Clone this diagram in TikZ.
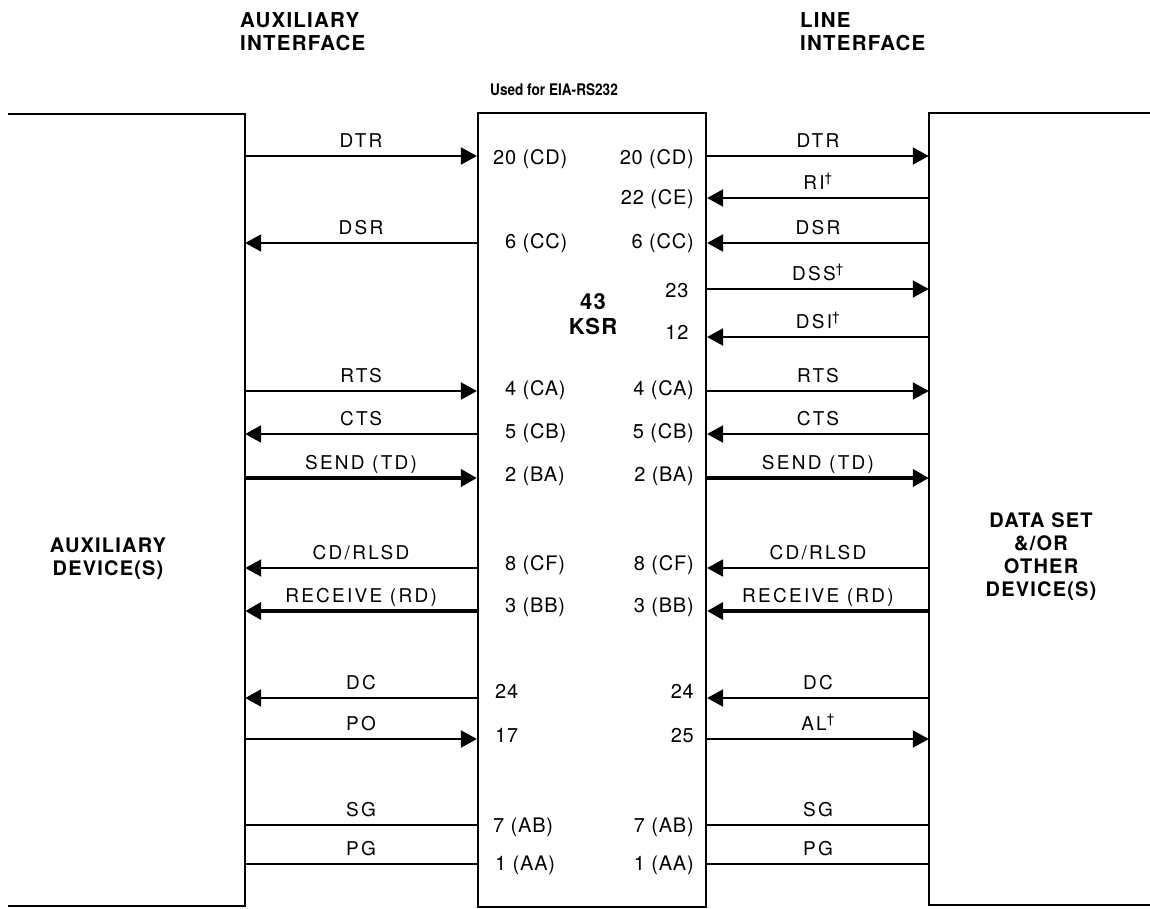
\documentclass[tikz,border=0pt]{standalone}
\usepackage{fontspec}
\setmainfont{TeX Gyre Heros}
\newfontfamily\sigfont[LetterSpace=12]{TeX Gyre Heros}
\newfontfamily\pinfont[LetterSpace=4]{TeX Gyre Heros}
\newfontfamily\headfont[LetterSpace=6]{TeX Gyre Heros}
\newfontfamily\notefont[FakeStretch=0.85]{TeX Gyre Heros}
\usetikzlibrary{arrows.meta, positioning}

\tikzset{
    wire/.style={line width=2pt},
    bus/.style={line width=3.8pt},
    tip/.style={-{Triangle[length=16pt, width=17pt]}},
    frame/.style={line width=2.2pt},
    devbox/.style={draw=none, minimum width=#1, minimum height=792pt, inner sep=0pt},
    sname/.style={font=\sigfont\fontsize{19}{21}\selectfont, anchor=base, yshift=9pt, inner sep=0pt},
    pin/.style={font=\pinfont\fontsize{20}{22}\selectfont, inner sep=0pt},
    head/.style={font=\headfont\bfseries\fontsize{20.5}{23}\selectfont, align=left, inner sep=0pt, anchor=north west},
    devname/.style={font=\headfont\bfseries\fontsize{20}{23}\selectfont, align=center, inner sep=0pt}
}

\begin{document}
\begin{tikzpicture}[x=1pt, y=-1pt]
    \useasboundingbox (0,0) rectangle (1150,908);

    % headings
    \node[head] (auxhead) at (240,12) {AUXILIARY\\INTERFACE};
    \node[head] (linehead) at (800,12) {LINE\\INTERFACE};
    \node[font=\notefont\bfseries\fontsize{16}{18}\selectfont, anchor=base west, inner sep=0pt] (rs232) at (490,95) {Used for EIA-RS232};

    % the three units
    \node[devbox=237pt] (aux) at (126.5,510) {};
    \node[devbox=221pt] (dset) at (1039.5,509) {};
    \node[draw, frame, minimum width=228pt, minimum height=794pt, inner sep=0pt] (ksr) at (592,510) {};
    \draw[frame] (aux.north west) -- (aux.north east) -- (aux.south east) -- (aux.south west);
    \draw[frame] (dset.north east) -- (dset.north west) -- (dset.south west) -- (dset.south east);

    \node[devname] (auxname) at (108,559) {AUXILIARY\\DEVICE(S)};
    \node[devname] (dsetname) at (1041,557) {DATA SET\\\&/OR\\OTHER\\DEVICE(S)};
    \node[devname, font=\headfont\bfseries\fontsize{22}{25}\selectfont] (ksrname) at (593,314) {43\\KSR};

    % signal rows
    \foreach \row/\y in {dtr/156, ri/198, dsr/243, dss/289, dsi/337, rts/391, cts/434,
                         td/478, cd/568, rd/611, dc/698, po/739, sg/825, pg/864}
        \coordinate (\row) at (0,\y);

    % pin numbers
    \foreach \txt/\x/\y in {20 (CD)/493/164, 6 (CC)/505/248, 4 (CA)/505/395, 5 (CB)/505/438,
                            2 (BA)/505/481, 8 (CF)/505/570, 3 (BB)/505/612, 24/495/698,
                            17/495/742, 7 (AB)/493/832, 1 (AA)/495/870}
        \node[pin, anchor=base west] (pinl-\y) at (\x,\y) {\txt};
    \foreach \txt/\y in {20 (CD)/164, 22 (CE)/204, 6 (CC)/248, 4 (CA)/395, 5 (CB)/438,
                         2 (BA)/481, 8 (CF)/570, 3 (BB)/612, 24/698, 25/742, 7 (AB)/832, 1 (AA)/870}
        \node[pin, anchor=base east] (pinr-\y) at (694,\y) {\txt};
    \node[pin, anchor=base] (pinr-297) at (677,297) {23};
    \node[pin, anchor=base] (pinr-339) at (677,339) {12};

    % auxiliary side
    \draw[wire, tip] (aux.east |- dtr) -- node[sname] (a-dtr) {DTR} (ksr.west |- dtr);
    \draw[wire, tip] (ksr.west |- dsr) -- node[sname] (a-dsr) {DSR} (aux.east |- dsr);
    \draw[wire, tip] (aux.east |- rts) -- node[sname] (a-rts) {RTS} (ksr.west |- rts);
    \draw[wire, tip] (ksr.west |- cts) -- node[sname] (a-cts) {CTS} (aux.east |- cts);
    \draw[bus, tip] (aux.east |- td) -- node[sname] (a-td) {SEND (TD)} (ksr.west |- td);
    \draw[wire, tip] (ksr.west |- cd) -- node[sname] (a-cd) {CD/RLSD} (aux.east |- cd);
    \draw[bus, tip] (ksr.west |- rd) -- node[sname] (a-rd) {RECEIVE (RD)} (aux.east |- rd);
    \draw[wire, tip] (ksr.west |- dc) -- node[sname] (a-dc) {DC} (aux.east |- dc);
    \draw[wire, tip] (aux.east |- po) -- node[sname] (a-po) {PO} (ksr.west |- po);
    \draw[wire] (aux.east |- sg) -- node[sname] (a-sg) {SG} (ksr.west |- sg);
    \draw[wire] (aux.east |- pg) -- node[sname] (a-pg) {PG} (ksr.west |- pg);

    % line side
    \draw[wire, tip] (ksr.east |- dtr) -- node[sname] (d-dtr) {DTR} (dset.west |- dtr);
    \draw[wire, tip] (dset.west |- ri) -- node[sname] (d-ri) {RI\textsuperscript{\textdagger}} (ksr.east |- ri);
    \draw[wire, tip] (dset.west |- dsr) -- node[sname] (d-dsr) {DSR} (ksr.east |- dsr);
    \draw[wire, tip] (ksr.east |- dss) -- node[sname] (d-dss) {DSS\textsuperscript{\textdagger}} (dset.west |- dss);
    \draw[wire, tip] (dset.west |- dsi) -- node[sname] (d-dsi) {DSI\textsuperscript{\textdagger}} (ksr.east |- dsi);
    \draw[wire, tip] (ksr.east |- rts) -- node[sname] (d-rts) {RTS} (dset.west |- rts);
    \draw[wire, tip] (dset.west |- cts) -- node[sname] (d-cts) {CTS} (ksr.east |- cts);
    \draw[bus, tip] (ksr.east |- td) -- node[sname] (d-td) {SEND (TD)} (dset.west |- td);
    \draw[wire, tip] (dset.west |- cd) -- node[sname] (d-cd) {CD/RLSD} (ksr.east |- cd);
    \draw[bus, tip] (dset.west |- rd) -- node[sname] (d-rd) {RECEIVE (RD)} (ksr.east |- rd);
    \draw[wire, tip] (dset.west |- dc) -- node[sname] (d-dc) {DC} (ksr.east |- dc);
    \draw[wire, tip] (ksr.east |- po) -- node[sname] (d-al) {AL\textsuperscript{\textdagger}} (dset.west |- po);
    \draw[wire] (ksr.east |- sg) -- node[sname] (d-sg) {SG} (dset.west |- sg);
    \draw[wire] (ksr.east |- pg) -- node[sname] (d-pg) {PG} (dset.west |- pg);
\end{tikzpicture}
\end{document}
